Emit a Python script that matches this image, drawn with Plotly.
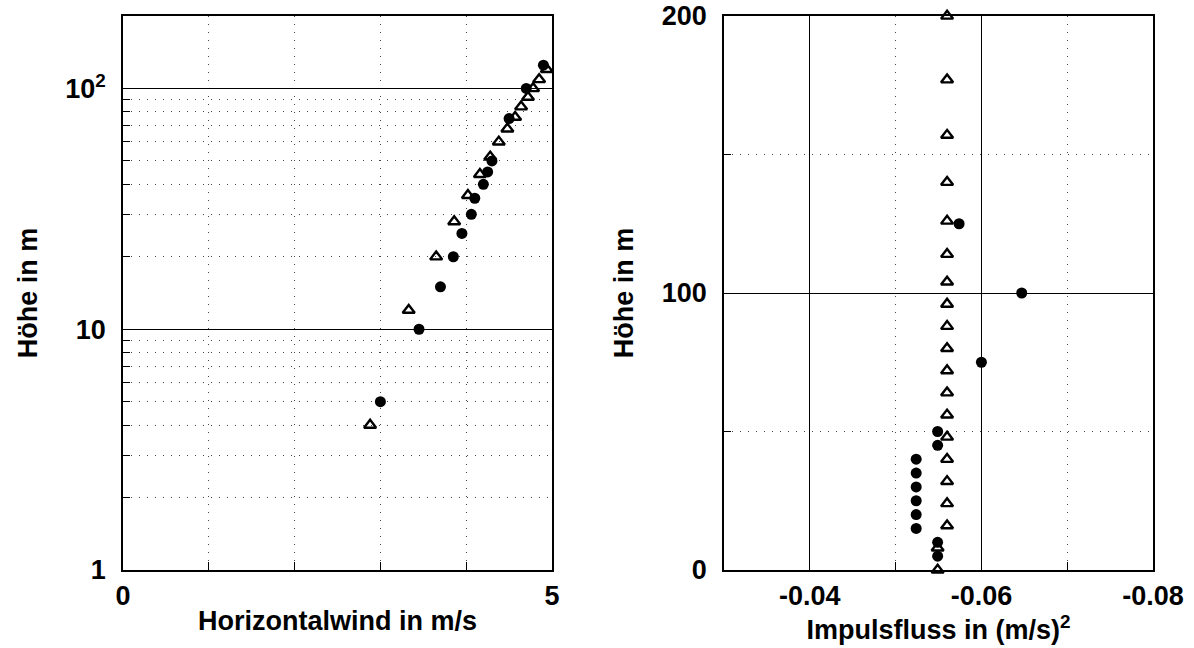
import plotly.graph_objects as go

# Left panel: horizontal wind profile (log height)
wind_circle_h = [5, 10, 15, 20, 25, 30, 35, 40, 45, 50, 75, 100, 125]
wind_circle_u = [3.00, 3.45, 3.70, 3.85, 3.95, 4.06, 4.10, 4.20, 4.25, 4.30, 4.50, 4.70, 4.90]
wind_tri_h = [4, 12, 20, 28, 36, 44, 52, 60, 68, 76, 84, 92, 100, 109, 120]
wind_tri_u = [2.88, 3.33, 3.65, 3.86, 4.02, 4.16, 4.28, 4.38, 4.48, 4.57, 4.64, 4.72, 4.78, 4.85, 4.94]

# Right panel: momentum flux profile
flux_circle_h = [5, 10, 15, 20, 25, 30, 35, 40, 45, 50, 75, 100, 125]
flux_circle_f = [-0.0549, -0.0549, -0.0524, -0.0524, -0.0524, -0.0524, -0.0524, -0.0524,
                 -0.0549, -0.0549, -0.0600, -0.0647, -0.0574]
flux_tri_h = [0, 8, 16, 24, 32, 40, 48, 56, 64, 72, 80, 88, 96, 104, 114, 126, 140, 157, 177, 200]
flux_tri_f = [-0.0549, -0.0549] + [-0.0560] * 18

left_xticks = [0, 5]
left_xminor = [1, 2, 3, 4]
left_yticks = [1, 10, 100]
left_yticktext = ["1", "10", "10<sup>2</sup>"]
right_xticks = [-0.04, -0.06, -0.08]
right_xticktext = ["-0.04", "-0.06", "-0.08"]
right_xminor = [-0.05, -0.07]
right_yticks = [0, 100, 200]
right_yminor = [50, 150]

FONT = dict(family="Liberation Sans, Arial, sans-serif", size=27, color="black", weight="bold")
DOT = "1px,7px"

fig = go.Figure()

circ = dict(symbol="circle", size=11, color="black")
tri = dict(symbol="triangle-up-open", size=10.5, color="black", line=dict(width=2.4, color="black"))

fig.add_trace(go.Scatter(x=wind_circle_u, y=wind_circle_h, mode="markers", marker=circ,
                         xaxis="x", yaxis="y", showlegend=False, cliponaxis=True))
fig.add_trace(go.Scatter(x=wind_tri_u, y=wind_tri_h, mode="markers", marker=tri,
                         xaxis="x", yaxis="y", showlegend=False, cliponaxis=False))
fig.add_trace(go.Scatter(x=flux_tri_f, y=flux_tri_h, mode="markers", marker=tri,
                         xaxis="x2", yaxis="y2", showlegend=False, cliponaxis=False))
fig.add_trace(go.Scatter(x=flux_circle_f, y=flux_circle_h, mode="markers", marker=circ,
                         xaxis="x2", yaxis="y2", showlegend=False, cliponaxis=False))

axis_common = dict(showline=True, linecolor="black", linewidth=1.5, mirror=True,
                   ticks="inside", ticklen=8, tickcolor="black", tickfont=FONT,
                   zeroline=False, gridcolor="black", gridwidth=1, automargin=False)

fig.update_layout(
    width=1194, height=648,
    margin=dict(l=0, r=0, t=16, b=78),
    paper_bgcolor="white", plot_bgcolor="white",
    xaxis=dict(domain=[123/1194, 552/1194], range=[0, 5], tickmode="array",
               tickvals=left_xticks, ticktext=[str(v) for v in left_xticks],
               showgrid=False, anchor="y",
               minor=dict(tickmode="array", tickvals=left_xminor, ticks="inside", ticklen=8,
                          tickcolor="black", showgrid=True, gridcolor="#444", griddash=DOT, gridwidth=1),
               title=dict(text="Horizontalwind in m/s", font=FONT, standoff=1),
               ticklabelstandoff=1, **axis_common),
    yaxis=dict(domain=[0, 1], type="log", range=[0, 2.301], tickmode="array",
               tickvals=left_yticks, ticktext=left_yticktext, showgrid=True, anchor="x",
               minor=dict(dtick="D1", ticks="inside", ticklen=7, tickcolor="black",
                          showgrid=True, gridcolor="#444", griddash=DOT, gridwidth=1),
               title=dict(text="Höhe in m", font=FONT, standoff=20),
               ticklabelstandoff=10, **axis_common),
    xaxis2=dict(domain=[724/1194, 1153/1194], range=[-0.03, -0.08], autorange=False,
                tickmode="array", tickvals=right_xticks, ticktext=right_xticktext,
                showgrid=True, anchor="y2",
                minor=dict(tickmode="array", tickvals=right_xminor, ticks="inside", ticklen=8,
                           tickcolor="black", showgrid=True, gridcolor="#444", griddash=DOT, gridwidth=1),
                title=dict(text="Impulsfluss in (m/s)<sup>2</sup>", font=FONT, standoff=1),
                ticklabelstandoff=1, **axis_common),
    yaxis2=dict(domain=[0, 1], range=[0, 200], tickmode="array", tickvals=right_yticks,
                ticktext=[str(v) for v in right_yticks], showgrid=True, anchor="x2",
                minor=dict(tickmode="array", tickvals=right_yminor, ticks="inside", ticklen=7,
                           tickcolor="black", showgrid=True, gridcolor="#444", griddash=DOT, gridwidth=1),
                title=dict(text="Höhe in m", font=FONT, standoff=20),
                ticklabelstandoff=10, **axis_common),
)

fig.write_html("out.html", config={"displayModeBar": False},
               post_script="document.body.style.margin='0px';")
